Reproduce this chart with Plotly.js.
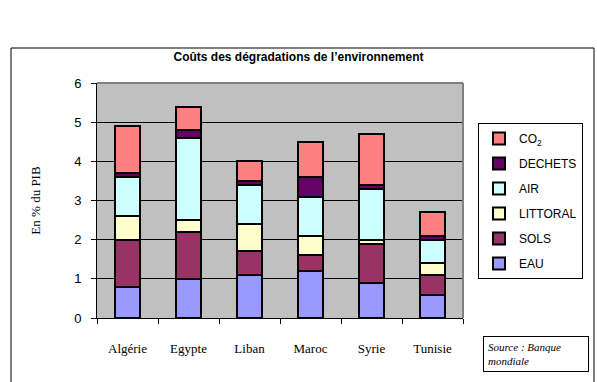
<!DOCTYPE html>
<html><head><meta charset="utf-8">
<script src="https://cdn.plot.ly/plotly-3.0.1.min.js"></script>
<style>html,body{margin:0;padding:0;background:#fff}#c{width:597px;height:382px}</style>
</head><body><div id="c"></div>
<script>
const countries = ["Algérie","Egypte","Liban","Maroc","Syrie","Tunisie"];
const seriesNames = ["EAU","SOLS","LITTORAL","AIR","DECHETS","CO<sub>2</sub>"];
const EAU      = [0.8, 1.0, 1.1, 1.2, 0.9, 0.6];
const SOLS     = [1.2, 1.2, 0.6, 0.4, 1.0, 0.5];
const LITTORAL = [0.6, 0.3, 0.7, 0.5, 0.1, 0.3];
const AIR      = [1.0, 2.1, 1.0, 1.0, 1.3, 0.6];
const DECHETS  = [0.1, 0.2, 0.1, 0.5, 0.1, 0.1];
const CO2      = [1.2, 0.6, 0.5, 0.9, 1.3, 0.6];
const colors = ["#9999FF","#993366","#FFFFCC","#CCFFFF","#660066","#FF8080"];
const values = [EAU, SOLS, LITTORAL, AIR, DECHETS, CO2];

const traces = values.map((v,i)=>({
  type:"bar", x:countries, y:v, name:seriesNames[i], legendgroup:"g"+i, legendrank:100-i,
  marker:{color:colors[i], line:{color:"#000", width:2}},
  hoverinfo:"skip"
}));

const layout = {
  width:597, height:382, barmode:"stack", bargap:0.6,
  paper_bgcolor:"#fff", plot_bgcolor:"#C0C0C0",
  margin:{l:97, r:134, t:83, b:64},
  showlegend:true,
  title:{text:"<b>Coûts des dégradations de l’environnement</b>", font:{family:"Liberation Sans, Arial", size:12, color:"#000"},
    xref:"container", x:0.5, xanchor:"center", yref:"container", y:1-57/382, yanchor:"middle"},
  xaxis:{type:"category", tickson:"boundaries", ticks:"outside", ticklen:5, tickcolor:"#000",
    showline:true, linecolor:"#000", linewidth:1, showgrid:false,
    tickfont:{family:"Liberation Serif, Times New Roman", size:13, color:"#000"}, ticklabelstandoff:18},
  yaxis:{range:[0,6], dtick:1, ticks:"outside", ticklen:5, tickcolor:"#000",
    showline:true, linecolor:"#000", linewidth:1, gridcolor:"#000", gridwidth:1, zeroline:false,
    tickfont:{family:"Liberation Sans, Arial", size:13, color:"#000"}, ticklabelstandoff:7,
    title:{text:"En % du PIB", font:{family:"Liberation Serif, Times New Roman", size:13, color:"#000"}, standoff:30}},
  legend:{x:1.041, xanchor:"left", y:0.83, yanchor:"top", traceorder:"grouped", tracegroupgap:6,
    bordercolor:"#000", borderwidth:1, bgcolor:"#fff",
    font:{family:"Liberation Sans, Arial", size:12, color:"#000"}},
  shapes:[
    {type:"rect", xref:"paper", yref:"paper", x0:-86/366, x1:497/366, y0:-0.35, y1:270/235, line:{color:"#000", width:1}, fillcolor:"rgba(0,0,0,0)", layer:"below"},
    {type:"line", xref:"paper", yref:"paper", x0:0, x1:1, y0:1, y1:1, line:{color:"#808080", width:2}},
    {type:"line", xref:"paper", yref:"paper", x0:1, x1:1, y0:0, y1:1, line:{color:"#808080", width:2}}
  ],
  annotations:[
    {xref:"paper", yref:"paper", x:(483-97)/366, xanchor:"left", y:(318-336)/235, yanchor:"top", showarrow:false,
     text:"<i>Source : Banque<br>mondiale</i>", align:"left", bordercolor:"#000", borderwidth:1, borderpad:4,
     width:96, font:{family:"Liberation Serif, Times New Roman", size:11, color:"#000"}}
  ]
};
Plotly.newPlot("c", traces, layout, {displayModeBar:false, staticPlot:true});
</script></body></html>
